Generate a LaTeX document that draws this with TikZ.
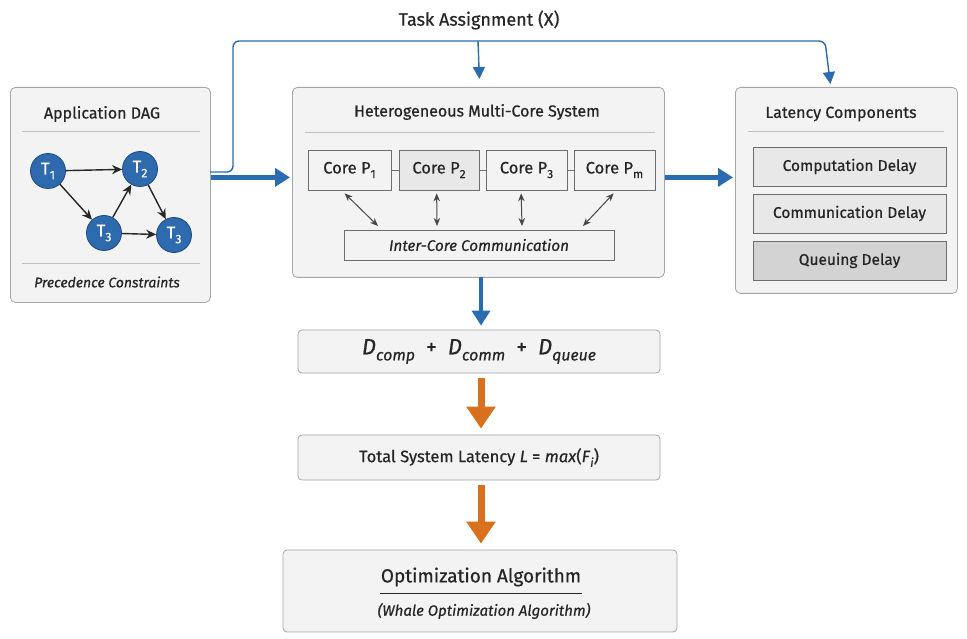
\documentclass[tikz,border=0pt]{standalone}
\usepackage{fontspec}
\setmainfont{Fira Sans}[FakeBold=0.6]
\usetikzlibrary{arrows.meta,calc}
\definecolor{flowblue}{HTML}{2B6CB0}
\definecolor{nodeblue}{HTML}{2E6AAE}
\definecolor{nodeedge}{HTML}{1C4A80}
\definecolor{floworange}{HTML}{D8701E}
\definecolor{panelfill}{HTML}{F3F3F3}
\definecolor{paneledge}{HTML}{A6A6A6}
\definecolor{cellfill}{HTML}{E8E8E8}
\definecolor{celledge}{HTML}{6E6E6E}
\definecolor{inktext}{HTML}{262626}
\newcommand{\lsub}[1]{\raisebox{-0.28em}{\fontsize{0.72\dimexpr\fontdimen6\font\relax}{1em}\selectfont #1}}
\tikzset{
  panel/.style={draw=paneledge, fill=panelfill, rounded corners=5pt, line width=0.8pt},
  cell/.style={draw=celledge, fill=cellfill, line width=0.7pt, inner sep=0pt, text=inktext},
  corecell/.style={draw=celledge, fill=panelfill, line width=0.7pt, inner sep=0pt, text=inktext, font=\fontsize{16.5}{19}\selectfont},
  tasknode/.style={circle, draw=nodeedge, fill=nodeblue, line width=0.8pt, minimum size=35pt, inner sep=0pt, text=white, font=\fontsize{17}{19}\selectfont},
  title/.style={text=inktext, font=\fontsize{16}{19}\selectfont},
  sepline/.style={draw=paneledge!70, line width=0.6pt},
  dagarrow/.style={-{Stealth[length=10pt,width=9pt]}, line width=1.4pt, draw=inktext},
  linkarrow/.style={{Stealth[length=8pt,width=6.5pt]}-{Stealth[length=8pt,width=6.5pt]}, line width=1pt, draw=inktext!85},
  thinblue/.style={draw=flowblue, line width=1.4pt, rounded corners=6pt, -{Triangle[length=12pt,width=12pt]}},
  thickblue/.style={draw=flowblue, line width=4.5pt, -{Triangle[length=15pt,width=18pt]}},
  thickorange/.style={draw=floworange, line width=7pt, -{Triangle[length=22pt,width=28pt]}},
  box/.style={draw=paneledge, fill=panelfill, rounded corners=4pt, line width=0.8pt, inner sep=0pt, text=inktext}
}
\begin{document}
\begin{tikzpicture}[x=1pt,y=-1pt]
\useasboundingbox (0,0) rectangle (967,639);
\fill[white] (0,0) rectangle (967,639);

% ---- application DAG panel
\node[panel, minimum width=200pt, minimum height=215pt, anchor=north west] (dag) at (10,87) {};
\node[title] (dagtitle) at (102,114) {Application DAG};
\draw[sepline] (22,131) -- (200,131);
\draw[sepline] (22,263) -- (200,263);
\node[text=inktext, font=\fontsize{14}{17}\selectfont\itshape] (prec) at (107,282) {Precedence Constraints};
\node[tasknode] (t1) at (48,171) {T\lsub{1}};
\node[tasknode] (t2) at (140,169) {T\lsub{2}};
\node[tasknode] (t3a) at (104,233) {T\lsub{3}};
\node[tasknode] (t3b) at (174,235) {T\lsub{3}};
\draw[dagarrow] (t1) -- (t2);
\draw[dagarrow] (t1) -- (t3a);
\draw[dagarrow] (t3a) -- (t2);
\draw[dagarrow] (t2) -- (t3b);
\draw[dagarrow] (t3a) -- (t3b);

% ---- multi-core panel
\node[panel, minimum width=372pt, minimum height=190pt, anchor=north west] (mcs) at (292,87) {};
\node[title] (mcstitle) at (477,112) {Heterogeneous Multi-Core System};
\draw[sepline] (305,132) -- (655,132);
\node[corecell, minimum width=83pt, minimum height=40pt] (p1) at (349.5,170) {Core P\lsub{1}};
\node[corecell, minimum width=80pt, minimum height=40pt, fill=cellfill] (p2) at (439,170) {Core P\lsub{2}};
\node[corecell, minimum width=81pt, minimum height=40pt] (p3) at (526.5,170) {Core P\lsub{3}};
\node[corecell, minimum width=81pt, minimum height=40pt] (pm) at (614.5,170) {Core P\lsub{m}};
\draw[celledge, line width=0.6pt] (p1) -- (p2);
\draw[celledge, line width=0.6pt] (p2) -- (p3);
\draw[celledge, line width=0.6pt] (p3) -- (pm);
\node[corecell, fill=panelfill, minimum width=270pt, minimum height=30pt, font=\fontsize{15.3}{17}\selectfont\itshape] (icc) at (479,245) {Inter-Core Communication};
\coordinate (icc1) at (378,226);
\coordinate (icc2) at (437,226);
\coordinate (icc3) at (522,226);
\coordinate (icc4) at (583,226);
\draw[linkarrow] ($(p1.south west)+(37,3)$) -- (icc1);
\draw[linkarrow] ($(p2.south west)+(38,3)$) -- (icc2);
\draw[linkarrow] ($(p3.south west)+(35.5,3)$) -- (icc3);
\draw[linkarrow] ($(pm.south west)+(40,3)$) -- (icc4);

% ---- latency components panel
\node[panel, minimum width=222pt, minimum height=206pt, anchor=north west] (lat) at (735,87) {};
\node[title] (lattitle) at (841,114) {Latency Components};
\draw[sepline] (748,131) -- (944,131);
\node[cell, minimum width=193pt, minimum height=39pt, font=\fontsize{15.5}{18}\selectfont] (comp) at (849.5,166.5) {Computation Delay};
\node[cell, minimum width=193pt, minimum height=39pt, font=\fontsize{15.5}{18}\selectfont] (comm) at (849.5,213.5) {Communication Delay};
\node[cell, minimum width=193pt, minimum height=39pt, font=\fontsize{15.5}{18}\selectfont, fill=cellfill!90!black!95] (queue) at (849.5,260.5) {Queuing Delay};

% ---- task assignment routing
\node[text=inktext, font=\fontsize{18}{21}\selectfont] (task) at (479,20) {Task Assignment (X)};
\coordinate (tafrom) at (210,172);
\coordinate (tabend) at (233,41);
\coordinate (taturn) at (825,41);
\coordinate (tasplit) at (478,41);
\draw[thinblue] (tafrom) -| (tabend) -- (taturn) -- ($(lat.north)+(-16,-3)$);
\draw[thinblue] (tasplit) -- ($(mcs.north)+(1,-8)$);

% ---- main blue flows
\draw[thickblue] ($(dag.east)+(0,-17.5)$) -- ($(mcs.west)+(-2,-5)$);
\draw[thickblue] ($(mcs.east)+(0,-5)$) -- ($(lat.west)+(-2,-13)$);

% ---- latency equation and result boxes
\node[box, minimum width=362pt, minimum height=43pt, font=\fontsize{22}{24}\selectfont] (sum) at (479,351.5)
  {\textit{D}\lsub{\itshape comp}\enspace+\enspace\textit{D}\lsub{\itshape comm}\enspace+\enspace\textit{D}\lsub{\itshape queue}};
\draw[thickblue] (481,277) -- ($(sum.north)+(2,-4)$);
\node[box, minimum width=362pt, minimum height=45pt, font=\fontsize{16.5}{19}\selectfont] (total) at (479,457.5)
  {Total System Latency \textit{L} = \textit{max}(\textit{F}\lsub{\itshape i})};
\draw[thickorange] ($(sum.south)+(2,5)$) -- ($(total.north)+(2,-6)$);

\node[box, minimum width=394pt, minimum height=82pt] (opt) at (480,591) {};
\node[text=inktext, font=\fontsize{19}{22}\selectfont] (opttitle) at (481,577) {Optimization Algorithm};
\draw[inktext, line width=1pt] (380,593) -- (582,593);
\node[text=inktext, font=\fontsize{15}{18}\selectfont\itshape] (optsub) at (484,611) {(Whale Optimization Algorithm)};
\draw[thickorange] ($(total.south)+(2,5)$) -- ($(opt.north)+(1,-6)$);
\end{tikzpicture}
\end{document}
